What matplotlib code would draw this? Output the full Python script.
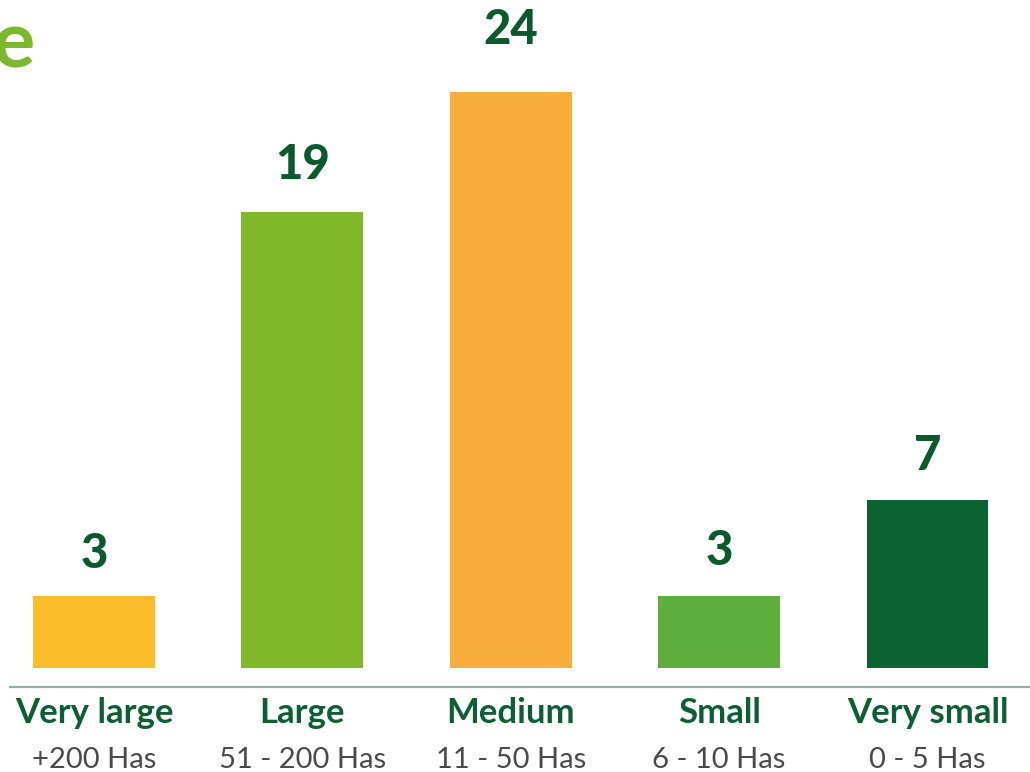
import matplotlib.pyplot as plt
import numpy as np

categories = ["Very large", "Large", "Medium", "Small", "Very small"]
ranges = ["+200 Has", "51 - 200 Has", "11 - 50 Has", "6 - 10 Has", "0 - 5 Has"]
counts = [3, 19, 24, 3, 7]

bar_colors = ["#fbbd2a", "#80b82a", "#f7ae3c", "#5eae3b", "#0a6331"]
label_pad_px = [20, 25, 40, 23, 22]

W, H = 1030, 772
fig = plt.figure(figsize=(W / 100, H / 100), dpi=100)
fig.patch.set_facecolor("white")

base_px = 668
ax = fig.add_axes([0, (H - base_px) / H, 1, base_px / H])
ax.set_xlim(-0.451, 4.492)
ax.set_ylim(0, base_px / 24.0)
ax.axis("off")

x = np.arange(len(categories))
bars = ax.bar(x, counts, width=0.585, color=bar_colors)

dark_green = "#0b5a2e"
for xi, v, pad in zip(x, counts, label_pad_px):
    ax.annotate(str(v), (xi, v), xytext=(0, pad * 0.72), textcoords="offset points",
                ha="center", va="bottom", fontsize=34, fontweight="black",
                family="Lato", color=dark_green)

# separator line under the bars
fig.add_artist(plt.Line2D([10 / W, 1], [(H - 687) / H] * 2, color="#8fb0a0", lw=1.6))

for xi, cat, rng in zip(x, categories, ranges):
    fx = (xi + 0.451) / (4.492 + 0.451)
    fig.text(fx, (H - 723) / H, cat, ha="center", va="baseline", fontsize=25,
             fontweight="bold", family="Lato", color="#0d5e34")
    fig.text(fx, (H - 768) / H, rng, ha="center", va="baseline", fontsize=21,
             fontweight="normal", family="Lato", color="#4a4a4a")

# tail of the cropped title
fig.text(35 / W, (H - 68) / H, "e", ha="right", va="baseline", fontsize=57,
         fontweight="bold", family="Lato", color="#7cb82f")

fig.savefig("out.png", dpi=100, facecolor="white")
